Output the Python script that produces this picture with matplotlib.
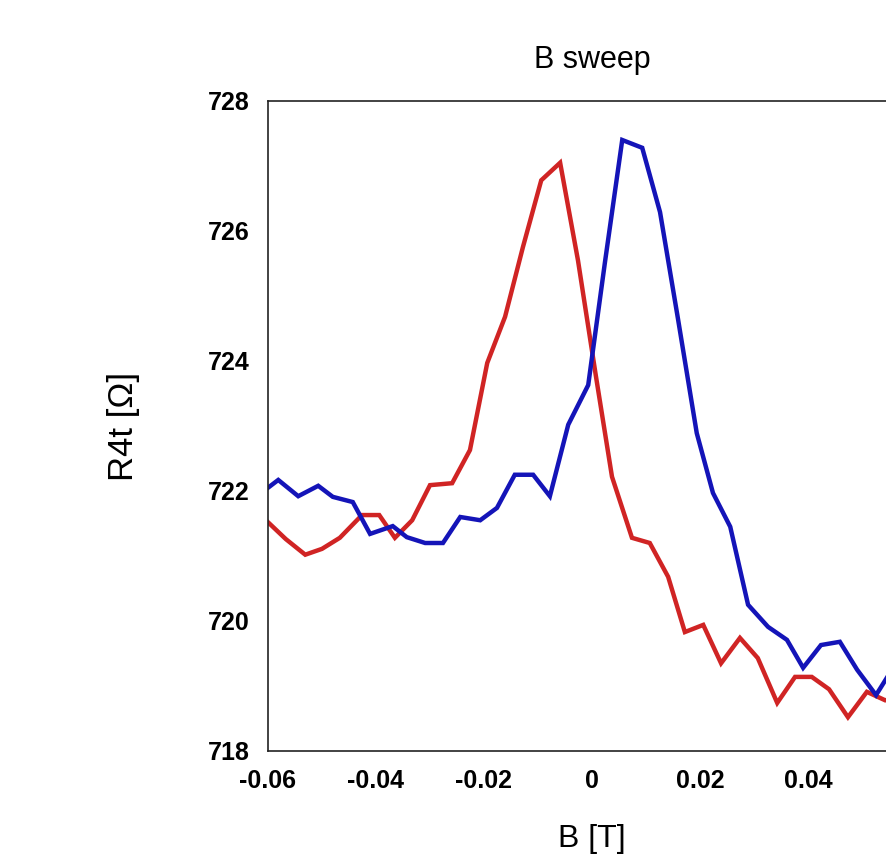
import matplotlib
matplotlib.use('Agg')
import matplotlib.pyplot as plt

# field sweep, forward (red) and backward (blue)
b_up = [-0.0600, -0.0567, -0.0531, -0.0500, -0.0467, -0.0426, -0.0394, -0.0365,
        -0.0333, -0.0300, -0.0259, -0.0226, -0.0194, -0.0161, -0.0128, -0.0094,
        -0.0059, -0.0026, 0.0007, 0.0037, 0.0074, 0.0107, 0.0141, 0.0172,
        0.0206, 0.0239, 0.0274, 0.0307, 0.0343, 0.0376, 0.0407, 0.0439,
        0.0474, 0.0509, 0.0543, 0.0576, 0.0600]
r_up = [721.52, 721.26, 721.02, 721.11, 721.28, 721.63, 721.63, 721.28,
        721.55, 722.09, 722.12, 722.63, 723.97, 724.68, 725.75, 726.78,
        727.05, 725.55, 723.78, 722.22, 721.28, 721.20, 720.68, 719.83,
        719.94, 719.35, 719.74, 719.43, 718.74, 719.14, 719.14, 718.95,
        718.52, 718.91, 718.78, 718.85, 718.95]

b_down = [-0.0600, -0.0581, -0.0544, -0.0507, -0.0480, -0.0443, -0.0411, -0.0369,
          -0.0343, -0.0309, -0.0276, -0.0244, -0.0207, -0.0176, -0.0143, -0.0109,
          -0.0078, -0.0044, -0.0007, 0.0024, 0.0056, 0.0093, 0.0126, 0.0159,
          0.0194, 0.0224, 0.0256, 0.0289, 0.0326, 0.0361, 0.0391, 0.0424,
          0.0459, 0.0491, 0.0526, 0.0559, 0.0593]
r_down = [722.05, 722.17, 721.92, 722.08, 721.91, 721.83, 721.34, 721.46,
          721.29, 721.20, 721.20, 721.60, 721.55, 721.74, 722.25, 722.25,
          721.92, 723.02, 723.63, 725.52, 727.40, 727.28, 726.29, 724.66,
          722.89, 721.97, 721.45, 720.25, 719.91, 719.71, 719.28, 719.63,
          719.68, 719.25, 718.86, 719.30, 719.55]

# 0.06 sits past the right edge of the picture, so it is left out
x_ticks = [-0.06, -0.04, -0.02, 0, 0.02, 0.04]
x_labels = ['-0.06', '-0.04', '-0.02', '0', '0.02', '0.04']
y_ticks = [718, 720, 722, 724, 726, 728]

plt.rcParams['font.family'] = ['Liberation Sans', 'DejaVu Sans']

fig = plt.figure(figsize=(8.87, 8.57), dpi=100)
# the right part of the axes runs past the edge of the picture, as in the original
ax = fig.add_axes([268 / 887, 1 - 751 / 857, 648 / 887, 650 / 857])

ax.plot(b_up, r_up, color='#d02424', lw=3.2, solid_joinstyle='miter')
ax.plot(b_down, r_down, color='#1414b8', lw=3.2, solid_joinstyle='miter')

ax.set_xlim(-0.06, 0.06)
ax.set_ylim(718, 728)
ax.set_xticks(x_ticks)
ax.set_xticklabels(x_labels)
ax.set_yticks(y_ticks)
ax.tick_params(length=0, labelsize=18, pad=13)
for lab in ax.get_xticklabels() + ax.get_yticklabels():
    lab.set_fontweight('bold')

for sp in ax.spines.values():
    sp.set_linewidth(1.2)
    sp.set_color('#222222')

ax.set_title('B sweep', fontsize=22, pad=24)
ax.set_ylabel('R4t [Ω]', fontsize=25)
ax.yaxis.set_label_coords(-0.197, 0.5)
ax.set_xlabel('B [T]', fontsize=23, va='top')
ax.xaxis.set_label_coords(0.5, -0.113)

fig.savefig('out.png', dpi=100)
